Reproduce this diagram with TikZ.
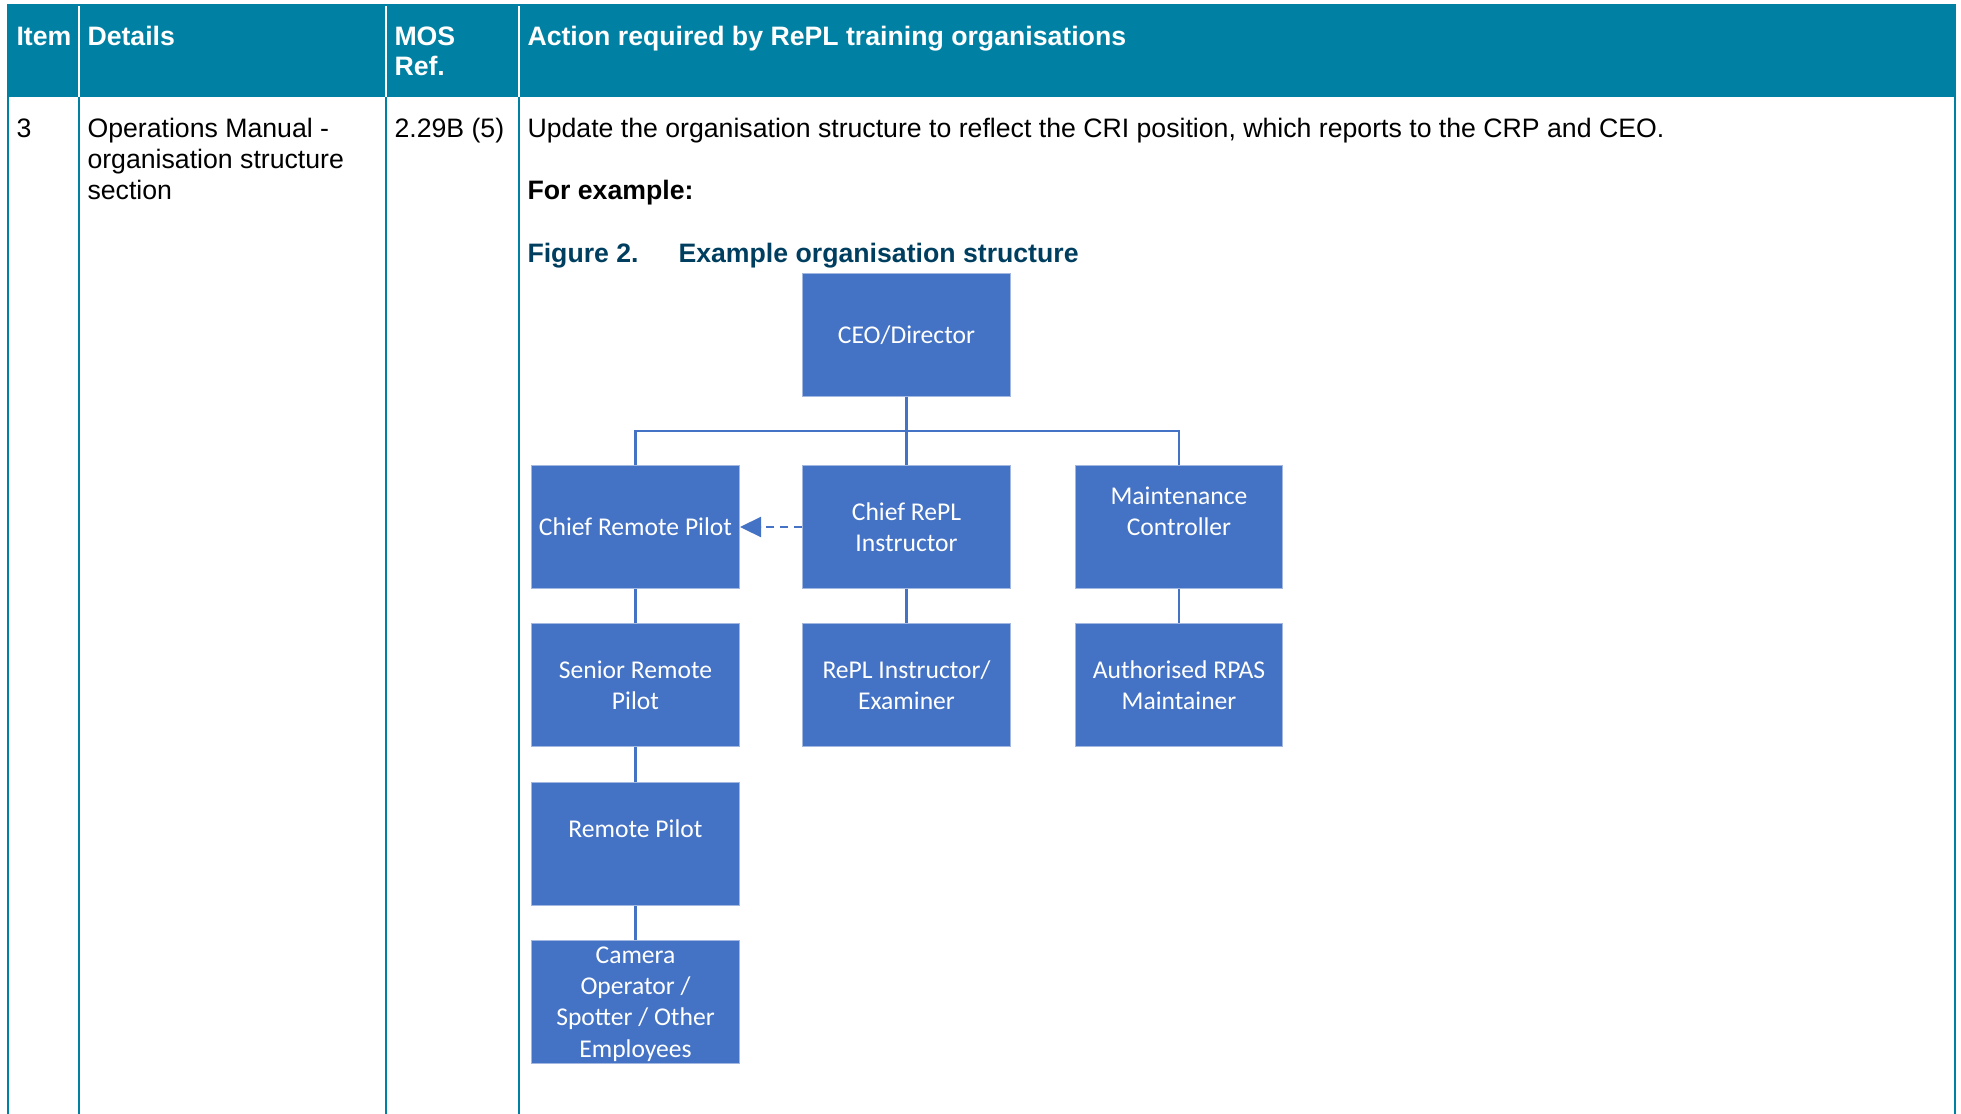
\documentclass[tikz,border=0pt]{standalone}
\usepackage{fontspec}
\setmainfont{Liberation Sans}
\newfontfamily\boxfont{Carlito}
\usetikzlibrary{arrows.meta}
\definecolor{headteal}{RGB}{0,129,163}
\definecolor{capblue}{RGB}{0,62,95}
\definecolor{orgblue}{RGB}{68,114,196}
\tikzset{
  orgbox/.style={rectangle, fill=orgblue, draw=orgblue!50!white, line width=0.5pt,
    text=white, minimum width=77.8pt, minimum height=46pt, inner sep=1pt,
    align=center, font=\boxfont\fontsize{9.6}{11.7}\selectfont},
  link/.style={draw=orgblue, line width=1.1pt},
  cell/.style={anchor=base west, inner sep=0pt, font=\fontsize{10}{11.7}\selectfont},
  headcell/.style={cell, text=white, font=\bfseries\fontsize{10}{11.7}\selectfont},
  rule/.style={draw=headteal, line width=0.8pt}
}
\begin{document}
\begin{tikzpicture}[x=0.375pt,y=-0.375pt]
\useasboundingbox (0,0) rectangle (1961,1114);
% table frame
\fill[headteal] (7,4) rectangle (1956,97);
\foreach \x in {79,386,519}
  \draw[white, line width=0.4pt] (\x,6) -- (\x,97);
\foreach \x in {8,79,386,519,1955}
  \draw[rule] (\x,97) -- (\x,1114);
% header
\node[headcell] (hitem) at (16,45) {Item};
\node[headcell] (hdet) at (87,45) {Details};
\node[headcell] (hmos) at (394,45) {MOS};
\node[headcell] (href) at (394,75) {Ref.};
\node[headcell] (hact) at (527,45) {Action required by RePL training organisations};
% row
\node[cell] (item) at (16,137) {3};
\node[cell] (det1) at (87,137) {Operations Manual -};
\node[cell] (det2) at (87,168) {organisation structure};
\node[cell] (det3) at (87,199.5) {section};
\node[cell] (mos) at (394,137) {2.29B (5)};
\node[cell] (act) at (527,137) {Update the organisation structure to reflect the CRI position, which reports to the CRP and CEO.};
\node[cell, font=\bfseries\fontsize{10}{11.7}\selectfont] (forex) at (527,199.5) {For example:};
\node[cell, text=capblue, font=\bfseries\fontsize{10}{11.7}\selectfont] (fignum) at (527,262) {Figure 2.};
\node[cell, text=capblue, font=\bfseries\fontsize{10}{11.7}\selectfont] (figtitle) at (678,262) {Example organisation structure};
% org chart
\node[orgbox] (ceo) at (906.5,335) {CEO/Director};
\node[orgbox] (crp) at (635.5,527) {Chief Remote Pilot};
\node[orgbox] (cri) at (906.5,527) {Chief RePL\\Instructor};
\node[orgbox] (mc) at (1179,527) {Maintenance\\Controller\\~};
\node[orgbox] (srp) at (635.5,685) {Senior Remote\\Pilot};
\node[orgbox] (rie) at (906.5,685) {RePL Instructor/\\Examiner};
\node[orgbox] (arm) at (1179,685) {Authorised RPAS\\Maintainer};
\node[orgbox] (rp) at (635.5,844) {Remote Pilot\\~};
\node[orgbox, text depth=0pt] (cam) at (635.5,1002) {Camera\\Operator /\\Spotter / Other\\Employees};
\coordinate (bar) at (906.5,431);
\draw[link] (ceo.south) -- (cri.north);
\draw[link] (crp.north) |- (bar) -| (mc.north);
\draw[link] (crp) -- (srp);
\draw[link] (srp) -- (rp);
\draw[link] (rp) -- (cam);
\draw[link] (cri) -- (rie);
\draw[link] (mc) -- (arm);
\draw[link, dash pattern=on 3pt off 2.2pt, -{Triangle[length=8pt,width=7.5pt]}] (cri.west) -- (crp.east);
\end{tikzpicture}
\end{document}
